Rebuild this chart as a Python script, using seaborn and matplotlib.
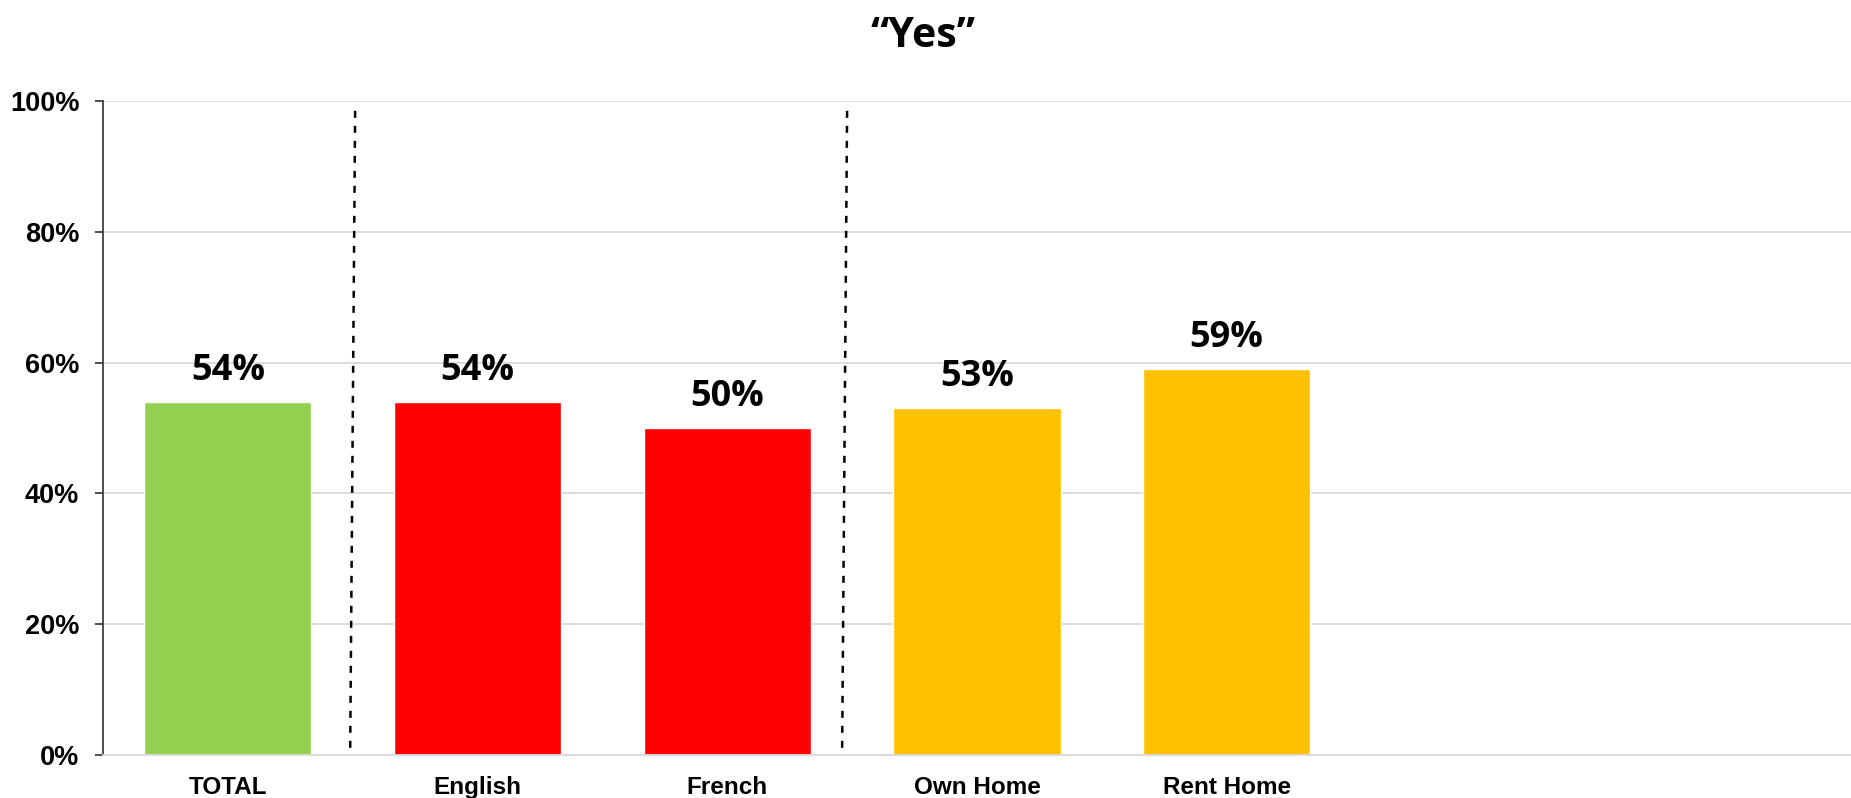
import matplotlib
matplotlib.use("Agg")
import matplotlib.pyplot as plt
import numpy as np
import seaborn as sns

categories = ["TOTAL", "English", "French", "Own Home", "Rent Home"]
values = [54, 54, 50, 53, 59]
bar_colors = ["#92D050", "#FF0000", "#FF0000", "#FFC000", "#FFC000"]
separators = [0.5, 2.47]
n_slots = 7
yticks = [0, 20, 40, 60, 80, 100]

sns.set_style("white")
plt.rcParams["font.family"] = ["Liberation Sans", "DejaVu Sans"]
plt.rcParams["text.color"] = "black"
plt.rcParams["xtick.color"] = "black"
plt.rcParams["ytick.color"] = "black"

fig = plt.figure(figsize=(18.51, 7.98), dpi=100)
ax = fig.add_axes([0.0556, 0.0539, 0.9444, 0.8195])

sns.barplot(x=categories, y=values, hue=categories, palette=bar_colors,
            width=0.67, saturation=1, legend=False, ax=ax)

ax.set_xlim(-0.5, n_slots - 0.5)
ax.set_ylim(0, 100)
ax.set_yticks(yticks)
ax.set_yticklabels([f"{t}%" for t in yticks], fontsize=19.5, fontweight="bold")
ax.set_xticks(range(len(categories)))
ax.set_xticklabels(categories, fontsize=17.5, fontweight="bold")
ax.set_xlabel("")
ax.set_ylabel("")

ax.grid(axis="y", color="#d9d9d9", linewidth=1.3)
ax.set_axisbelow(True)
for s in ["top", "right"]:
    ax.spines[s].set_visible(False)
ax.spines["bottom"].set_color("#d9d9d9")
ax.spines["bottom"].set_linewidth(1.3)
ax.spines["left"].set_color("#404040")
ax.spines["left"].set_linewidth(1.3)
ax.tick_params(axis="y", which="major", left=True, length=6, width=1.3,
               color="#404040", pad=11)
ax.tick_params(axis="x", length=0, pad=15)

for x in separators:
    ax.plot([x + 0.01, x - 0.01], [98.5, 0], color="black",
            linestyle=(0, (2.8, 3.2)), linewidth=1.8, zorder=3)

for i, v in enumerate(values):
    ax.annotate(f"{v}%", (i, v), xytext=(0, 16), textcoords="offset points",
                ha="center", va="baseline", fontsize=26, fontweight="bold",
                color="black", family=["Open Sans", "DejaVu Sans"])

fig.text(0.4985, 1 - 46.7 / 798, "\u201cYes\u201d", ha="center", va="baseline",
         fontsize=29.5, fontweight="bold", color="black",
         family=["Open Sans", "DejaVu Sans"])

fig.savefig("out.png", dpi=100)
